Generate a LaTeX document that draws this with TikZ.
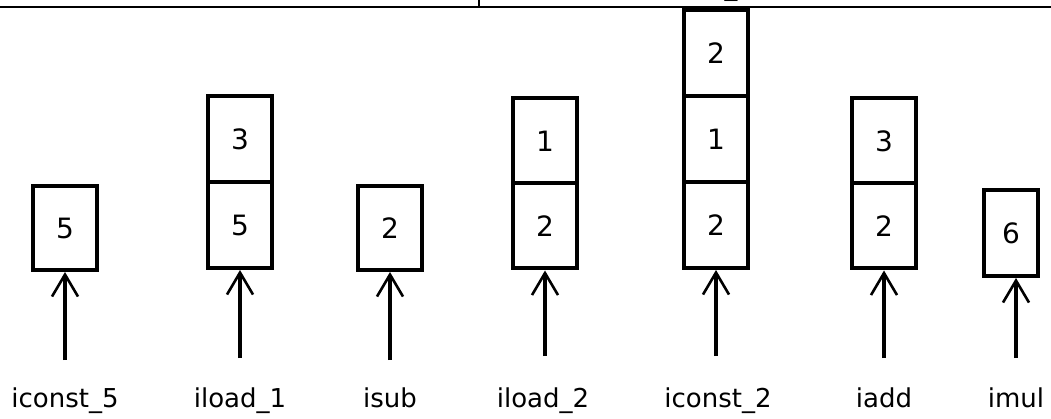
\documentclass[tikz,border=0pt]{standalone}
\usepackage{fontspec}
\setmainfont{DejaVu Sans}
\usetikzlibrary{arrows.meta}
\begin{document}
\begin{tikzpicture}[x=1pt,y=-1pt,
  cell/.style={draw, line width=4pt, minimum width=64pt, minimum height=86pt,
    inner sep=0pt, font=\fontsize{28}{30}\selectfont},
  push/.style={line width=3.6pt,
    -{Straight Barb[length=22pt,width=26pt,line width=2.6pt]}},
  opname/.style={anchor=base, inner sep=0pt, font=\fontsize{26}{30}\selectfont},
  rule/.style={line width=1.8pt}]
\useasboundingbox (0,0) rectangle (1051,419);

% frame line of the table above
\draw[rule] (0,7) -- (1051,7);
\draw[rule] (479,0) -- (479,7);
\node[anchor=base, inner sep=0pt, font=\fontsize{25.6}{30}\selectfont] (frag1) at (610,-4) {,};
\node[anchor=base, inner sep=0pt, font=\fontsize{25.6}{30}\selectfont] (frag2) at (731,-4) {\_};

% operand stack after each instruction
\node[cell, minimum height=84pt] (a1) at (65,228) {5};

\node[cell] (b2) at (240,139) {3};
\node[cell] (b1) at (240,225) {5};

\node[cell, minimum height=84pt] (c1) at (390,228) {2};

\node[cell, minimum height=85pt] (d2) at (545,141) {1};
\node[cell, minimum height=85pt] (d1) at (545,226) {2};

\node[cell] (e3) at (716,53) {2};
\node[cell] (e2) at (716,139) {1};
\node[cell] (e1) at (716,225) {2};

\node[cell, minimum height=85pt] (f2) at (884,141) {3};
\node[cell, minimum height=85pt] (f1) at (884,226) {2};

\node[cell, minimum width=54pt, minimum height=86pt] (g1) at (1011,233) {6};

% instruction names
\node[opname] (la) at (65,407) {iconst\_5};
\node[opname] (lb) at (240,407) {iload\_1};
\node[opname] (lc) at (390,407) {isub};
\node[opname] (ld) at (543,407) {iload\_2};
\node[opname] (le) at (718,407) {iconst\_2};
\node[opname] (lf) at (884,407) {iadd};
\node[opname] (lg) at (1016,407) {imul};

% arrows from each instruction to its stack
\coordinate (ta) at (65,360);
\coordinate (tb) at (240,358);
\coordinate (tc) at (390,360);
\coordinate (td) at (545,356);
\coordinate (te) at (716,356);
\coordinate (tf) at (884,358);
\coordinate (tg) at (1016,358);
\draw[push] (ta) -- (a1.south);
\draw[push] (tb) -- (b1.south);
\draw[push] (tc) -- (c1.south);
\draw[push] (td) -- (d1.south);
\draw[push] (te) -- (e1.south);
\draw[push] (tf) -- (f1.south);
\draw[push] (tg) -- (g1.south -| tg);
\end{tikzpicture}
\end{document}
